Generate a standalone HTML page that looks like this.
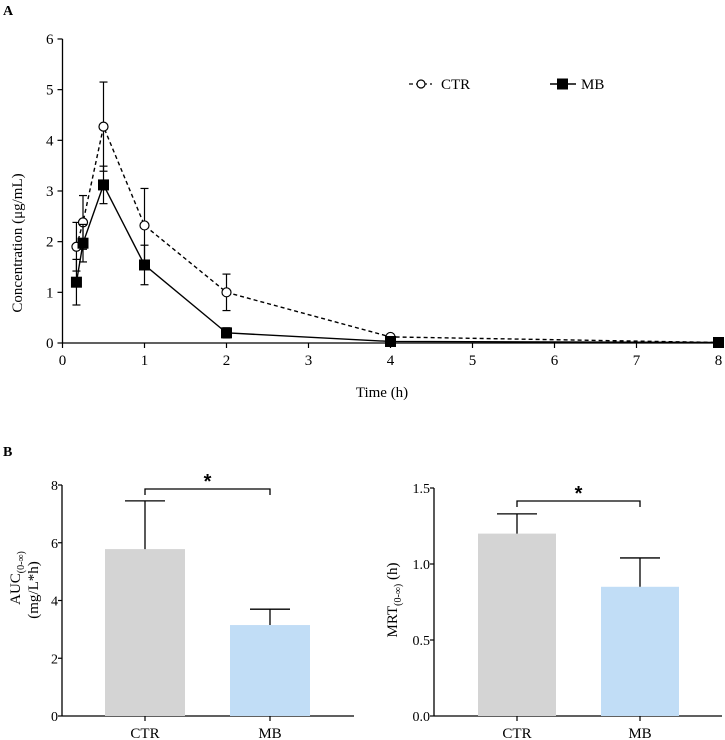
<!DOCTYPE html>
<html><head><meta charset="utf-8">
<style>
body{margin:0;background:#fff;}
svg{display:block;font-family:"Liberation Serif",serif;}
</style></head>
<body>
<svg id="fig" width="725" height="740" viewBox="0 0 725 740" xmlns="http://www.w3.org/2000/svg">
<text x="3" y="15" font-size="14" font-weight="bold">A</text>
<text x="3" y="456" font-size="14" font-weight="bold">B</text>
<g id="top"></g>
<g id="bl"></g>
<g id="br"></g>
</svg>
<script>
const times=[0.17,0.25,0.5,1,2,4,8];
const ctrVals=[1.9,2.38,4.27,2.32,1.0,0.12,0.01];
const ctrErr=[0.48,0.53,0.88,0.73,0.36,0.05,0.02];
const mbVals=[1.2,1.97,3.12,1.54,0.2,0.03,0.01];
const mbErr=[0.45,0.37,0.37,0.39,0.1,0.02,0.01];
const xTicks=[0,1,2,3,4,5,6,7,8];
const yTicks=[0,1,2,3,4,5,6];
const barCats=["CTR","MB"];
const aucVals=[5.78,3.15];
const aucErr=[1.67,0.55];
const aucTicks=[0,2,4,6,8];
const mrtVals=[1.2,0.85];
const mrtErr=[0.13,0.19];
const mrtTicks=["0.0","0.5","1.0","1.5"];

const NS="http://www.w3.org/2000/svg";
function mk(parent,tag,attrs,txt){const e=document.createElementNS(NS,tag);for(const k in attrs)e.setAttribute(k,attrs[k]);if(txt!==undefined)e.textContent=txt;parent.appendChild(e);return e;}

// top chart
const T=document.getElementById('top');
const X0=62.5,XU=82,Y0=343,YU=50.67;
const sx=v=>X0+v*XU, sy=v=>Y0-v*YU;
let ax=mk(T,'line',{x1:X0,y1:sy(6),x2:X0,y2:Y0,stroke:'#000','stroke-width':1.3});

ax=mk(T,'line',{x1:X0,y1:Y0,x2:sx(8),y2:Y0,stroke:'#000','stroke-width':1.3});

yTicks.forEach(v=>{mk(T,'line',{x1:X0-5,y1:sy(v),x2:X0,y2:sy(v),stroke:'#000','stroke-width':1.2});
 const t=mk(T,'text',{x:X0-9,y:sy(v)+5,'font-size':15,'text-anchor':'end'},v);
 });
xTicks.forEach(v=>{mk(T,'line',{x1:sx(v),y1:Y0,x2:sx(v),y2:Y0+5,stroke:'#000','stroke-width':1.2});
 const t=mk(T,'text',{x:sx(v),y:Y0+22,'font-size':15,'text-anchor':'middle'},v);
 });
let lb=mk(T,'text',{x:382,y:397,'font-size':15,'text-anchor':'middle'},'Time (h)');

lb=mk(T,'text',{x:0,y:0,'font-size':15,'text-anchor':'middle',transform:'translate(22,243) rotate(-90)'},'Concentration (μg/mL)');


function series(vals,errs,dash,name,marker){
 const g=mk(T,'g',{});
 
 vals.forEach((v,i)=>{const x=sx(times[i]);
  mk(g,'line',{x1:x,y1:sy(v+errs[i]),x2:x,y2:sy(v-errs[i]),stroke:'#000','stroke-width':1.2});
  mk(g,'line',{x1:x-4,y1:sy(v+errs[i]),x2:x+4,y2:sy(v+errs[i]),stroke:'#000','stroke-width':1.2});
  mk(g,'line',{x1:x-4,y1:sy(v-errs[i]),x2:x+4,y2:sy(v-errs[i]),stroke:'#000','stroke-width':1.2});});
 const p=vals.map((v,i)=>sx(times[i])+','+sy(v)).join(' ');
 const pl=mk(g,'polyline',{points:p,fill:'none',stroke:'#000','stroke-width':1.4,'stroke-dasharray':dash});
 
 vals.forEach((v,i)=>{const x=sx(times[i]),y=sy(v);let m;
  if(marker==='circle')m=mk(g,'circle',{cx:x,cy:y,r:4.5,fill:'#fff',stroke:'#000','stroke-width':1.2});
  else m=mk(g,'rect',{x:x-5.5,y:y-5.5,width:11,height:11,fill:'#000'});
  });
}
series(ctrVals,ctrErr,'4,3','ctr','circle');
series(mbVals,mbErr,'none','mb','square');

// legend
let lg=mk(T,'g',{});
mk(lg,'line',{x1:409,y1:84,x2:432,y2:84,stroke:'#000','stroke-width':1.3,'stroke-dasharray':'4,3'});
mk(lg,'circle',{cx:421,cy:84,r:4,fill:'#fff',stroke:'#000','stroke-width':1.2});
mk(lg,'text',{x:441,y:89,'font-size':15},'CTR');
lg=mk(T,'g',{});
mk(lg,'line',{x1:550,y1:84,x2:576,y2:84,stroke:'#000','stroke-width':1.4});
mk(lg,'rect',{x:557,y:78.5,width:11,height:11,fill:'#000'});
mk(lg,'text',{x:581,y:89,'font-size':15},'MB');

// bar charts
function barChart(id,o){
 const G=document.getElementById(id);
 const sy2=v=>o.y0-(v/o.max)*(o.y0-o.ytop);
 let a=mk(G,'line',{x1:o.ax,y1:o.ytop,x2:o.ax,y2:o.y0,stroke:'#000','stroke-width':1.3});
 
 a=mk(G,'line',{x1:o.ax,y1:o.y0,x2:o.xend,y2:o.y0,stroke:'#000','stroke-width':1.3});
 
 o.ticks.forEach(tk=>{const v=parseFloat(tk);
  mk(G,'line',{x1:o.ax-4,y1:sy2(v),x2:o.ax,y2:sy2(v),stroke:'#000','stroke-width':1.2});
  const t=mk(G,'text',{x:o.ax-4,y:sy2(v)+5,'font-size':14,'text-anchor':'end'},tk);
  });
 barCats.forEach((c,i)=>{const cx=o.centers[i],v=o.vals[i],e=o.errs[i];
  const r=mk(G,'rect',{x:cx-o.bw/2,y:sy2(v),width:o.bw,height:o.y0-sy2(v),fill:o.colors[i]});
  
  const el=mk(G,'path',{d:`M${cx},${sy2(v)}V${sy2(v+e)}M${cx-20},${sy2(v+e)}H${cx+20}`,stroke:'#000','stroke-width':1.3,fill:'none'});
  
  mk(G,'line',{x1:cx,y1:o.y0,x2:cx,y2:o.y0+5,stroke:'#000','stroke-width':1.2});
  const t=mk(G,'text',{x:cx,y:o.y0+22,'font-size':15,'text-anchor':'middle'},c);
  });
 const b=mk(G,'path',{d:`M${o.centers[0]},${o.by+6}V${o.by}H${o.centers[1]}V${o.by+6}`,stroke:'#000','stroke-width':1.3,fill:'none'});
 
 const s=mk(G,'text',{x:(o.centers[0]+o.centers[1])/2,y:o.by-1,'font-size':20,'font-weight':'bold','text-anchor':'middle','font-family':'Liberation Sans, sans-serif'},'*');
 
 const yl=mk(G,'text',{x:0,y:0,'font-size':15,'text-anchor':'middle',transform:`translate(${o.lx},${o.ly}) rotate(-90)`});
 
 o.label(yl);
}
function sub(parent,main,s,after){mk(parent,'tspan',{},main);mk(parent,'tspan',{'font-size':10,dy:4},s);if(after)mk(parent,'tspan',{dy:-4},after);}
barChart('bl',{ax:62,xend:354,y0:716,ytop:485,max:8,ticks:aucTicks,vals:aucVals,errs:aucErr,centers:[145,270],bw:80,colors:['#d4d4d4','#c1ddf6'],by:489,lx:0,ly:0,label:e=>{
 e.setAttribute('transform','translate(0,0)');e.remove();
 const G=document.getElementById('bl');
 const a=mk(G,'text',{x:0,y:0,'font-size':15,'text-anchor':'middle',transform:'translate(20,578) rotate(-90)'});
 
 sub(a,'AUC','(0-∞)');
 const b=mk(G,'text',{x:0,y:0,'font-size':15,'text-anchor':'middle',transform:'translate(38,590) rotate(-90)'},'(mg/L*h)');
 
}});
barChart('br',{ax:434,xend:722,y0:716,ytop:488,max:1.5,ticks:mrtTicks,vals:mrtVals,errs:mrtErr,centers:[517,640],bw:78,colors:['#d4d4d4','#c1ddf6'],by:501,lx:397,ly:600,label:e=>{sub(e,'MRT','(0-∞)',' (h)');}});
</script>
</body></html>
